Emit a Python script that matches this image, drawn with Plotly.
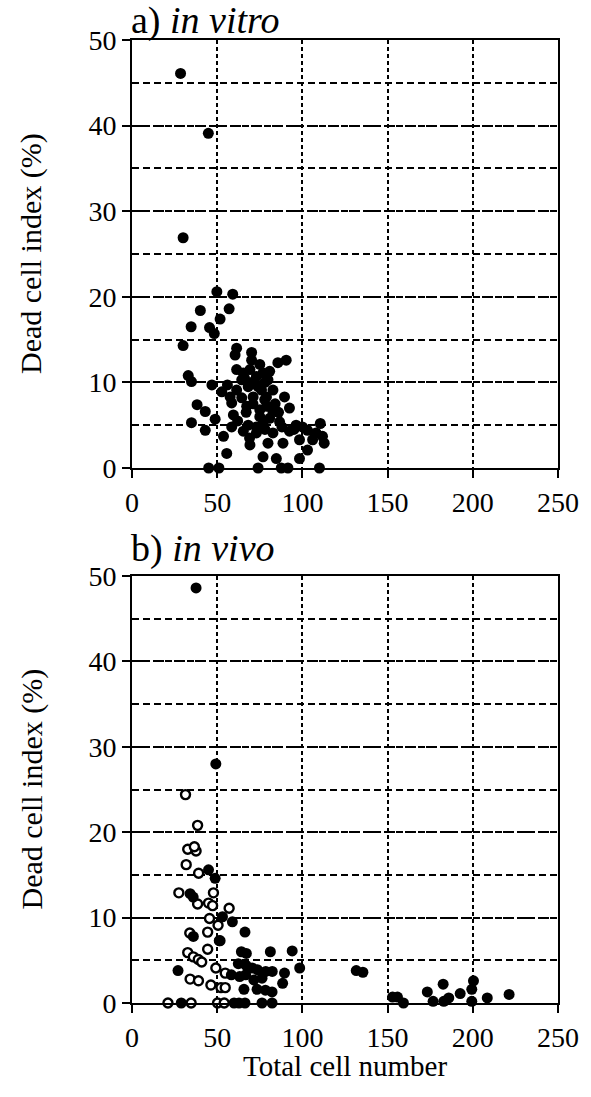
import plotly.graph_objects as go
from plotly.subplots import make_subplots

# ---- Data: a) in vitro (filled circles)
vitro_x = [28.5, 44.8, 30, 49.8, 59.1, 40.1, 57, 51.7, 34.7, 45.5, 48.3, 30,
           61.4, 60.5, 70.2, 70.2, 90.5, 85.6, 61.4, 75, 80.8, 64.4, 73, 79.8,
           33, 34.9, 46.9, 56, 52.7, 61.4, 68.2, 76, 82.7, 64.4, 71.1, 77.9, 89.5,
           38.2, 43, 58.5, 67.3, 75, 82.7, 92.4, 59.5, 48.8, 34.9, 43, 58.5, 68.2,
           76.9, 86.6, 96.3, 103, 110.5, 53.7, 65.3, 73, 82.7, 92.4, 69.2, 79.8,
           88.6, 98.3, 106, 111.8, 112.8, 55.6, 76.9, 84.7, 98.3, 103,
           45, 51, 74, 87.6, 91.5, 110,
           72.1, 76.9, 69.2, 78.9, 75, 80.8, 73, 65.3, 57.6, 66, 70, 74, 78, 67,
           71, 79, 84, 86, 88, 95, 62, 69, 78, 100, 108]
vitro_y = [46.1, 39.1, 26.9, 20.6, 20.3, 18.4, 18.6, 17.4, 16.5, 16.4, 15.7, 14.3,
           14.0, 13.2, 13.5, 12.6, 12.6, 12.3, 11.5, 12.1, 11.3, 10.3, 10.7, 10.3,
           10.8, 10.1, 9.7, 9.7, 8.9, 9.1, 9.5, 9.1, 9.1, 8.2, 8.3, 8.0, 8.3,
           7.4, 6.6, 7.6, 7.2, 6.8, 6.6, 7.0, 6.2, 5.7, 5.3, 4.4, 4.8, 5.0,
           5.2, 5.4, 5.0, 4.4, 5.2, 3.7, 4.3, 4.1, 4.1, 4.3, 2.7, 2.9,
           2.9, 3.3, 3.3, 3.7, 2.9, 1.7, 1.3, 1.1, 1.1, 2.1,
           0, 0, 0, 0, 0, 0,
           9.9, 11.1, 11.5, 8.3, 6.0, 5.8, 4.8, 11.1, 8.3, 10.5, 10.0, 9.5, 10.0, 6.5,
           7.5, 7.2, 7.5, 6.5, 4.8, 4.5, 5.5, 3.5, 4.5, 4.8, 4.1]

# ---- Data: b) in vivo, filled circles
vivo_filled_x = [37.6, 49.2, 44.9, 48.8, 34.1, 35.9, 53.1, 58.9, 66.3, 36, 51.2,
                 64.2, 67.1, 81.2, 94, 98.4, 27, 62.4, 67, 70.5, 73.6, 78.5, 82.3,
                 58.3, 63.2, 71.5, 76.3, 89.5, 88.4, 65.7, 73.4, 78.3, 82.2, 66.7,
                 28.9, 59.9, 62.8, 66.3, 76.3, 82.2,
                 131.6, 135.5, 152.9, 155.8, 159.3, 173.3, 176.7, 182.6, 183, 185.9,
                 192.6, 200.4, 199.4, 199.4, 208.5, 221.3]
vivo_filled_y = [48.6, 28.0, 15.6, 14.6, 12.8, 12.4, 10.1, 9.5, 8.3, 7.8, 7.3,
                 6.0, 5.8, 6.0, 6.1, 4.1, 3.8, 4.6, 4.4, 4.1, 3.9, 3.7, 3.7,
                 3.3, 3.1, 2.7, 2.9, 3.5, 2.3, 1.6, 1.6, 1.5, 1.3, 3.3,
                 0, 0, 0, 0, 0, 0,
                 3.8, 3.6, 0.7, 0.7, 0, 1.3, 0.2, 2.2, 0.2, 0.6,
                 1.1, 2.6, 1.6, 0.2, 0.6, 1.0]

# ---- Data: b) in vivo, open circles
vivo_open_x = [31.4, 38.5, 32.7, 37.6, 36.6, 31.8, 39.1, 27.5, 47.8, 44.9, 47.3,
               38.5, 57, 45.5, 50.5, 33.9, 44.4, 51.6, 44.4, 32.7, 36, 38.9, 40.9,
               49.2, 54.7, 34.1, 39, 46.3, 52.2, 54.7, 21.1, 34.7, 50.2, 54.1]
vivo_open_y = [24.4, 20.8, 18.0, 17.8, 18.3, 16.2, 15.2, 12.9, 12.9, 11.7, 11.4,
               11.6, 11.1, 9.9, 9.1, 8.2, 8.3, 7.3, 6.3, 5.9, 5.4, 5.1, 4.8,
               4.1, 3.5, 2.8, 2.6, 2.1, 1.8, 1.8, 0, 0, 0, 0]

x_ticks = [0, 50, 100, 150, 200, 250]
y_ticks = [0, 10, 20, 30, 40, 50]

FONT = "Liberation Serif"

fig = make_subplots(rows=2, cols=1, vertical_spacing=0.0)

fig.add_trace(go.Scatter(x=vitro_x, y=vitro_y, mode="markers", cliponaxis=False,
                         marker=dict(size=11, color="black", line=dict(width=0)),
                         showlegend=False), row=1, col=1)
fig.add_trace(go.Scatter(x=vivo_open_x, y=vivo_open_y, mode="markers", cliponaxis=False,
                         marker=dict(size=9, color="white", line=dict(width=2.4, color="black")),
                         showlegend=False), row=2, col=1)
fig.add_trace(go.Scatter(x=vivo_filled_x, y=vivo_filled_y, mode="markers", cliponaxis=False,
                         marker=dict(size=11, color="black", line=dict(width=0)),
                         showlegend=False), row=2, col=1)

H = 1097
top, bottom = 40, 94
plot_h = H - top - bottom
y1_dom = [(1003 - 468) / plot_h, 1.0]
y2_dom = [0.0, (1003 - 576) / plot_h]

xaxis_common = dict(range=[0, 250], tickvals=x_ticks, ticks="outside", ticklen=8,
                    tickwidth=2, tickcolor="black", showline=True, linecolor="black",
                    linewidth=2, mirror=True, showgrid=True, gridcolor="black",
                    gridwidth=2, griddash="4px,3px", zeroline=False,
                    tickfont=dict(family=FONT, size=28, color="black"))
yaxis_common = dict(range=[0, 50], tickvals=y_ticks, ticks="outside", ticklen=8,
                    tickwidth=2, tickcolor="black", showline=True, linecolor="black",
                    linewidth=2, mirror=True, showgrid=True, gridcolor="black",
                    gridwidth=2, griddash="4px,3px", zeroline=False,
                    minor=dict(dtick=5, tick0=0, showgrid=True, gridcolor="black",
                               gridwidth=2, griddash="7px,4px", ticks=""),
                    tickfont=dict(family=FONT, size=28, color="black"))

ann_font_title = dict(family=FONT, size=38, color="black")
ann_font_axis = dict(family=FONT, size=30, color="black")

fig.update_layout(
    width=591, height=H,
    margin=dict(l=132, r=30, t=top, b=bottom),
    paper_bgcolor="white", plot_bgcolor="white",
    xaxis=dict(**xaxis_common, anchor="y"),
    xaxis2=dict(**xaxis_common, anchor="y2"),
    yaxis=dict(**yaxis_common, domain=y1_dom, anchor="x"),
    yaxis2=dict(**yaxis_common, domain=y2_dom, anchor="x2"),
    annotations=[
        dict(text="a) <i>in vitro</i>", xref="paper", yref="paper", x=0, y=1.0,
             xanchor="left", yanchor="bottom", yshift=-4, xshift=-3, showarrow=False,
             font=ann_font_title),
        dict(text="b) <i>in vivo</i>", xref="paper", yref="paper", x=0, y=y2_dom[1],
             xanchor="left", yanchor="bottom", yshift=4, xshift=-3, showarrow=False,
             font=ann_font_title),
        dict(text="Dead cell index (%)", xref="paper", yref="paper", x=0,
             y=sum(y1_dom) / 2, xanchor="center", yanchor="middle", xshift=-101,
             textangle=-90, showarrow=False, font=ann_font_axis),
        dict(text="Dead cell index (%)", xref="paper", yref="paper", x=0,
             y=sum(y2_dom) / 2, xanchor="center", yanchor="middle", xshift=-101,
             textangle=-90, showarrow=False, font=ann_font_axis),
        dict(text="Total cell number", xref="paper", yref="paper", x=0.5, y=0,
             xanchor="center", yanchor="middle", yshift=-63, showarrow=False,
             font=dict(family=FONT, size=29, color="black")),
    ],
)

fig.write_html("out.html",
               config={"displayModeBar": False},
               post_script="document.body.style.margin='0';document.body.style.overflow='hidden';")
